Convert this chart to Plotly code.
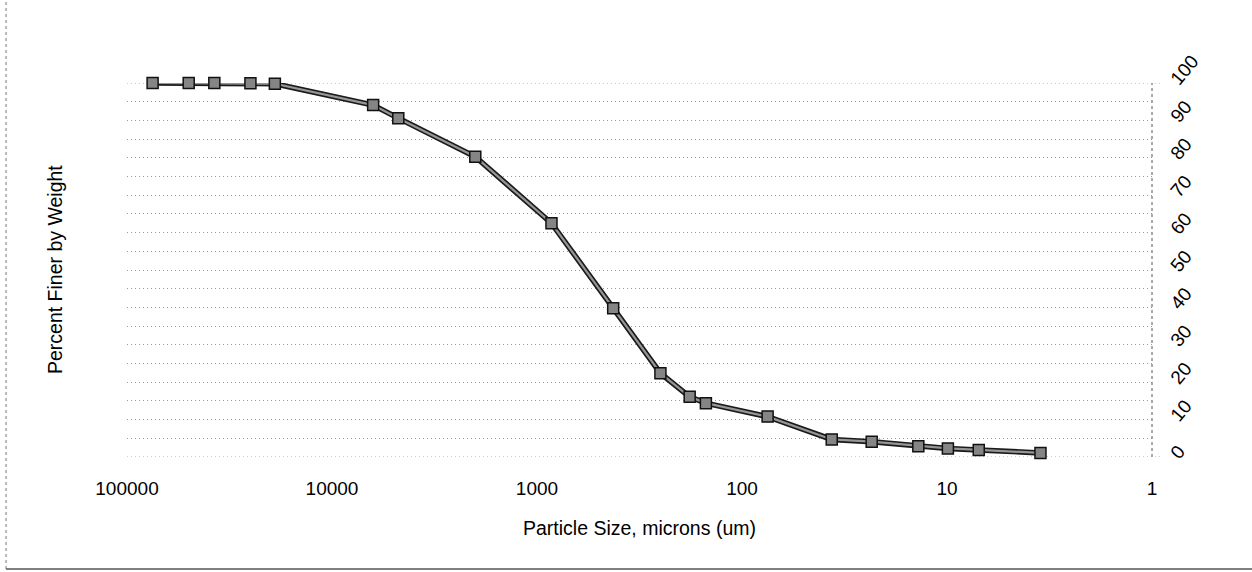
import plotly.graph_objects as go

# Data
sizes_um = [75000, 50000, 37500, 25000, 19000, 6300, 4750, 2000, 850, 425,
            250, 180, 150, 75, 36.5, 23.3, 13.8, 9.9, 7.0, 3.5]
percent_finer = [100, 100, 100, 99.9, 99.8, 94.1, 90.6, 80.3, 62.5, 39.8,
                 22.4, 16.1, 14.4, 10.8, 4.7, 4.1, 2.9, 2.3, 1.9, 1.1]

x_tickvals = [100000, 10000, 1000, 100, 10, 1]
x_ticktext = ["100000", "10000", "1000", "100", "10", "1"]
y_tickvals = [0, 10, 20, 30, 40, 50, 60, 70, 80, 90, 100]
y_ticktext = [str(v) for v in y_tickvals]
y_edge_lines = [0, 100]

x_title = "Particle Size, microns (um)"
y_title = "Percent Finer by Weight"

FONT = "Liberation Sans, Arial, sans-serif"
GRID = "#9a9a9a"
GRID_DASH = "1px,3px"

fig = go.Figure()
# dark outer stroke of the line
fig.add_trace(go.Scatter(
    x=sizes_um, y=percent_finer, mode="lines", cliponaxis=False,
    line=dict(color="#1a1a1a", width=5.5), hoverinfo="skip", showlegend=False))
# gray inner line + markers
fig.add_trace(go.Scatter(
    x=sizes_um, y=percent_finer, mode="lines+markers", cliponaxis=False,
    line=dict(color="#969696", width=2.2),
    marker=dict(symbol="square", size=11, color="#858585",
                line=dict(color="#111111", width=1.5)),
    showlegend=False))

shapes = [
    # right axis (dotted)
    dict(type="line", xref="paper", yref="paper", x0=1, x1=1, y0=0, y1=1,
         line=dict(color="#555555", width=1, dash="dot"), layer="below"),
    # outer chart border: left (dotted) and bottom
    dict(type="line", xref="paper", yref="paper", x0=-0.118, x1=-0.118,
         y0=-0.2995, y1=1.23, line=dict(color="#777777", width=1, dash="dot")),
    dict(type="line", xref="paper", yref="paper", x0=-0.118, x1=1.1,
         y0=-0.2995, y1=-0.2995, line=dict(color="#555555", width=1.5)),
]
for yv in y_edge_lines:
    shapes.append(dict(type="line", xref="paper", yref="y", x0=0, x1=1.008,
                       y0=yv, y1=yv, layer="below",
                       line=dict(color=GRID, width=1, dash=GRID_DASH)))

fig.update_layout(
    width=1252, height=572,
    margin=dict(l=127, r=100, t=83, b=115),
    paper_bgcolor="white", plot_bgcolor="white",
    font=dict(family=FONT, size=19, color="black"),
    xaxis=dict(
        type="log", range=[5, 0],
        tickvals=x_tickvals, ticktext=x_ticktext,
        showgrid=False, zeroline=False, showline=False,
        ticks="", ticklabelstandoff=18,
        tickfont=dict(family=FONT, size=19, color="black"),
    ),
    yaxis=dict(
        range=[0, 100], side="right",
        tickvals=y_tickvals, ticktext=y_ticktext,
        tickangle=-50,
        showgrid=True, gridcolor=GRID, gridwidth=1, griddash=GRID_DASH,
        minor=dict(dtick=5, showgrid=True, gridcolor=GRID,
                   gridwidth=1, griddash=GRID_DASH, ticks=""),
        zeroline=False, showline=False,
        ticks="", ticklabelstandoff=19,
        tickfont=dict(family=FONT, size=19, color="black"),
    ),
    annotations=[
        dict(text=x_title, xref="paper", yref="paper", x=0.5, y=-0.19,
             xanchor="center", yanchor="middle", showarrow=False,
             font=dict(family=FONT, size=19.5, color="black")),
        dict(text=y_title, xref="paper", yref="paper", x=-0.0702, y=0.5,
             xanchor="center", yanchor="middle", textangle=-90, showarrow=False,
             font=dict(family=FONT, size=19.5, color="black")),
    ],
    shapes=shapes,
)

fig.write_html("out.html", config={"displayModeBar": False},
               post_script="document.body.style.margin='0';")
